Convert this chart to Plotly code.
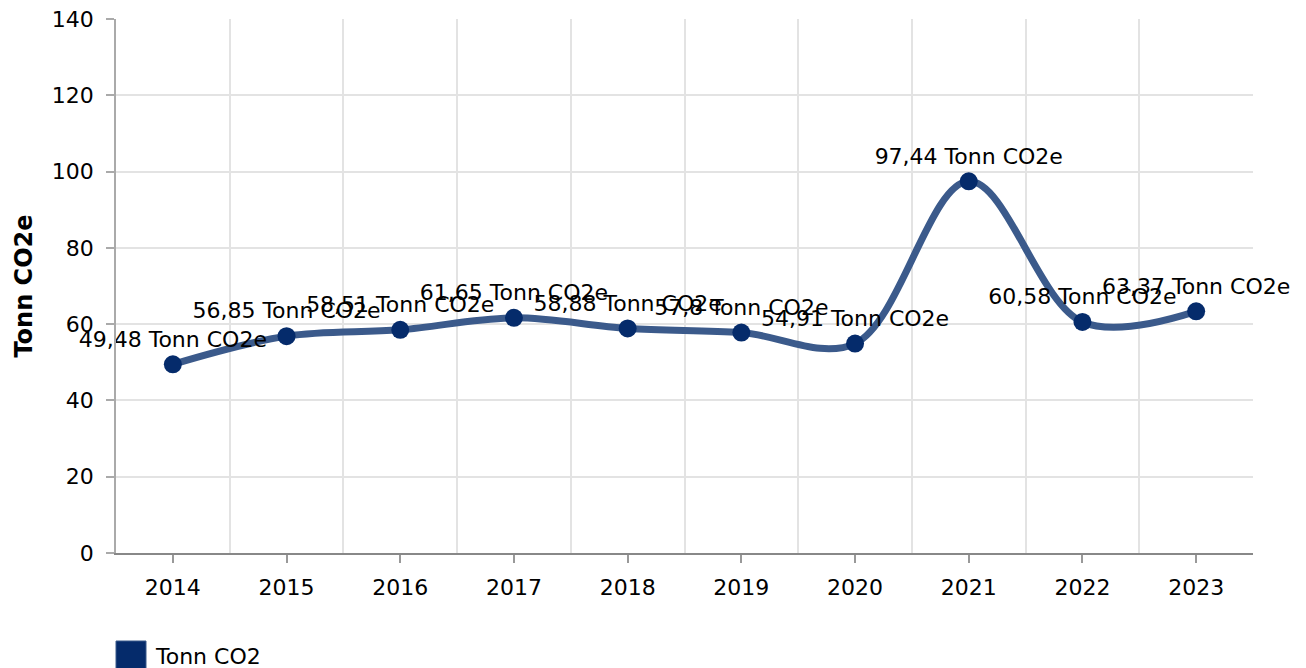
import plotly.graph_objects as go

years = ["2014", "2015", "2016", "2017", "2018", "2019", "2020", "2021", "2022", "2023"]
values = [49.48, 56.85, 58.51, 61.65, 58.88, 57.8, 54.91, 97.44, 60.58, 63.37]
unit = "Tonn CO2e"
series_name = "Tonn CO2"
y_ticks = [0, 20, 40, 60, 80, 100, 120, 140]

labels = [f"{str(v).replace('.', ',')} {unit}" for v in values]
x = list(range(len(years)))

FONT = "DejaVu Sans, Verdana, sans-serif"
# page body has an 8px margin; compensate so the plot lands where the reference has it
W, H = 1298, 660
ML, MR, MT, MB = 108, 53, 11, 115
PW, PH = W - ML - MR, H - MT - MB

fig = go.Figure()
fig.add_trace(go.Scatter(
    x=x, y=values, mode="lines",
    line=dict(color="#3b5a8b", width=7, shape="spline", smoothing=1),
    showlegend=False, hoverinfo="skip",
))
fig.add_trace(go.Scatter(
    x=x, y=values, mode="markers+text",
    marker=dict(size=18, color="#052b6b"),
    text=labels, textposition="top center",
    textfont=dict(size=22, color="#000000", family=FONT),
    showlegend=False, cliponaxis=False, name=series_name,
))

fig.update_layout(
    width=W, height=H,
    margin=dict(l=ML, r=MR, t=MT, b=MB, autoexpand=False),
    paper_bgcolor="white", plot_bgcolor="white",
    font=dict(family=FONT, size=22, color="#000000"),
    showlegend=False,
    xaxis=dict(
        range=[-0.5, len(years) - 0.5],
        tickvals=x, ticktext=years,
        ticks="outside", ticklen=8, tickcolor="#999999", tickwidth=2,
        showgrid=False, zeroline=False,
        showline=True, linecolor="#888888", linewidth=2,
        tickfont=dict(size=22, family=FONT, color="#000000"),
        ticklabelstandoff=6,
        minor=dict(tick0=0.5, dtick=1, showgrid=True, gridcolor="#e3e3e3", gridwidth=1.5, ticks=""),
        fixedrange=True,
    ),
    yaxis=dict(
        range=[0, 140], tickvals=y_ticks,
        ticks="outside", ticklen=8, tickcolor="#aaaaaa", tickwidth=1.5,
        showgrid=True, gridcolor="#e3e3e3", gridwidth=1.5, zeroline=False,
        showline=True, linecolor="#aaaaaa", linewidth=1.5,
        tickfont=dict(size=22, family=FONT, color="#000000"),
        ticklabelstandoff=8, ticklabeloverflow="allow",
        title=dict(text="<b>Tonn CO2e</b>", font=dict(size=24, family=FONT), standoff=12),
        automargin=False,
        fixedrange=True,
    ),
    shapes=[dict(
        type="rect", xref="paper", yref="paper",
        x0=0, x1=30 / PW, y0=(553 - 641) / PH, y1=(553 - 672) / PH,
        fillcolor="#052b6b", line=dict(width=1, color="#3b5a8b"), layer="above",
    )],
    annotations=[dict(
        text=series_name, xref="paper", yref="paper",
        x=(153 - 116) / PW, y=(553 - 656) / PH, xanchor="left", yanchor="middle",
        showarrow=False, font=dict(size=22, family=FONT, color="#000000"),
    )],
)

fig.write_html("out.html")
